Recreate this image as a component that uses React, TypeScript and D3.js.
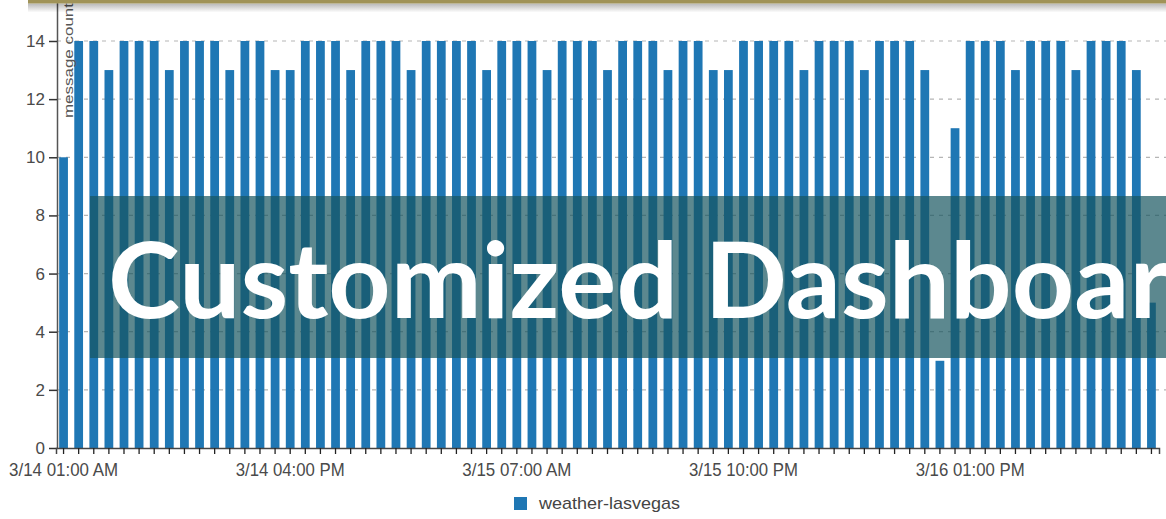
import React, { useEffect, useRef } from 'react';
import * as d3 from 'd3';

// hourly message counts, starting 3/14 01:00 AM
const messageCounts = [
    10, 14, 14, 13, 14, 14, 14, 13, 14, 14, 14, 13, 14, 14, 13, 13, 14, 14, 14, 13,
    14, 14, 14, 13, 14, 14, 14, 14, 13, 14, 14, 14, 13, 14, 14, 14, 13, 14, 14, 14,
    13, 14, 14, 13, 13, 14, 14, 14, 14, 13, 14, 14, 14, 13, 14, 14, 14, 13, 3, 11,
    14, 14, 14, 13, 14, 14, 14, 13, 14, 14, 14, 13, 5
];
const startHour = new Date(2017, 2, 14, 1);
const xTickLabels = ['3/14 01:00 AM', '3/14 04:00 PM', '3/15 07:00 AM', '3/15 10:00 PM', '3/16 01:00 PM'];
const yTicks = [0, 2, 4, 6, 8, 10, 12, 14];
const seriesName = 'weather-lasvegas';
// the banner runs off the right edge of the screenshot
const bannerText = 'Customized Dashboar';

const W = 1166;
const H = 519;
const FONT = "'Liberation Sans', Arial, sans-serif";

const App: React.FC = () => {
    const svgRef = useRef<SVGSVGElement>(null);

    useEffect(() => {
        if (!svgRef.current) return;
        const svg = d3.select(svgRef.current);
        svg.selectAll('*').remove();

        const fmt = d3.timeFormat('%-m/%d %I:%M %p');
        const hours = messageCounts.map((_, i) => d3.timeHour.offset(startHour, i));
        const keys = hours.map(h => fmt(h));

        const x = d3.scaleBand<string>()
            .domain(keys)
            .range([56, 1159])
            .paddingInner(0.42)
            .paddingOuter(0.21);

        const y = d3.scaleLinear().domain([0, 15.41]).range([448, 0]);

        // dashed grid
        svg.append('g')
            .selectAll('line')
            .data(yTicks.filter(t => t > 0))
            .join('line')
            .attr('x1', 57)
            .attr('x2', W)
            .attr('y1', d => y(d))
            .attr('y2', d => y(d))
            .attr('stroke', '#b5b5b5')
            .attr('stroke-width', 1.2)
            .attr('stroke-dasharray', '4 5');

        // bars
        svg.append('g')
            .selectAll('rect')
            .data(messageCounts)
            .join('rect')
            .attr('x', (_, i) => x(keys[i]) as number)
            .attr('y', d => y(d))
            .attr('width', x.bandwidth())
            .attr('height', d => y(0) - y(d))
            .attr('fill', '#1f77b4');

        // y axis
        const yAxis = svg.append('g')
            .attr('transform', 'translate(57,0)')
            .call(d3.axisLeft(y).tickValues(yTicks).tickSize(8).tickSizeOuter(0).tickPadding(4).tickFormat(d3.format('d')));
        yAxis.select('.domain').attr('stroke', '#555').attr('stroke-width', 1.5);
        yAxis.selectAll('.tick line').attr('stroke', '#333').attr('stroke-width', 1.5);
        yAxis.selectAll('.tick text')
            .attr('fill', '#4a4a4a')
            .style('font-family', FONT)
            .style('font-size', '17px');

        // y label
        svg.append('text')
            .attr('transform', 'translate(73,3) rotate(-90)')
            .attr('text-anchor', 'end')
            .attr('fill', '#555')
            .attr('textLength', 115)
            .attr('lengthAdjust', 'spacingAndGlyphs')
            .style('font-family', FONT)
            .style('font-size', '13px')
            .text('message count');

        // x axis
        const xAxis = svg.append('g')
            .attr('transform', 'translate(0,448)')
            .call(d3.axisBottom(x).tickSize(6).tickSizeOuter(6).tickFormat(() => ''));
        xAxis.select('.domain').attr('stroke', '#444').attr('stroke-width', 1.5);
        xAxis.selectAll('.tick line').attr('stroke', '#222').attr('stroke-width', 1.3);

        svg.append('g')
            .selectAll('text')
            .data(xTickLabels)
            .join('text')
            .attr('x', d => (x(d) as number) + x.bandwidth() / 2)
            .attr('y', 476)
            .attr('text-anchor', 'middle')
            .attr('fill', '#4a4a4a')
            .attr('textLength', 109)
            .attr('lengthAdjust', 'spacingAndGlyphs')
            .style('font-family', FONT)
            .style('font-size', '17.5px')
            .text(d => d);

        // legend
        const legend = svg.append('g').attr('transform', 'translate(514,497)');
        legend.append('rect').attr('width', 13).attr('height', 13).attr('fill', '#1f77b4');
        legend.append('text')
            .attr('x', 25)
            .attr('y', 12)
            .attr('fill', '#444')
            .attr('textLength', 141)
            .attr('lengthAdjust', 'spacingAndGlyphs')
            .style('font-family', FONT)
            .style('font-size', '17px')
            .text(seriesName);

        // gold strip with shadow at top
        const defs = svg.append('defs');
        const grad = defs.append('linearGradient')
            .attr('id', 'topShadow')
            .attr('x1', 0).attr('y1', 0).attr('x2', 0).attr('y2', 1);
        grad.append('stop').attr('offset', '0%').attr('stop-color', '#000').attr('stop-opacity', 0.28);
        grad.append('stop').attr('offset', '100%').attr('stop-color', '#000').attr('stop-opacity', 0);
        svg.append('rect')
            .attr('x', 28).attr('y', 3.5).attr('width', W - 28).attr('height', 9)
            .attr('fill', 'url(#topShadow)');
        svg.append('rect')
            .attr('x', 28).attr('y', 0).attr('width', W - 28).attr('height', 3.5)
            .attr('fill', '#a09358');

        // banner overlay
        svg.append('rect')
            .attr('x', 90).attr('y', 196).attr('width', W - 90).attr('height', 162)
            .attr('fill', '#17555f')
            .attr('opacity', 0.7);

        svg.append('text')
            .attr('x', 108)
            .attr('y', 318)
            .attr('fill', '#fff')
            .attr('textLength', 1062)
            .attr('lengthAdjust', 'spacingAndGlyphs')
            .style('font-family', "Lato, 'Open Sans', sans-serif")
            .style('font-weight', 'bold')
            .style('font-size', '106px')
            .text(bannerText);
    }, []);

    return (
        <div style={{ position: 'absolute', left: 0, top: 0, width: W, height: H, overflow: 'hidden', background: '#fff' }}>
            <svg ref={svgRef} width={W} height={H} style={{ display: 'block' }} />
        </div>
    );
};

export default App;
